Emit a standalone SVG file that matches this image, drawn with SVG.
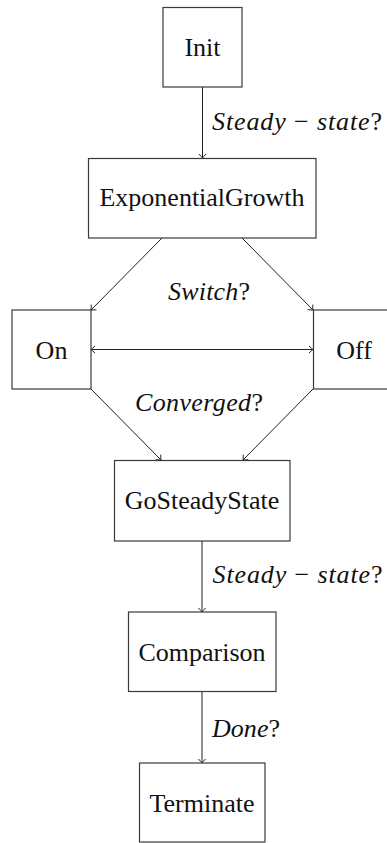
<svg xmlns="http://www.w3.org/2000/svg" width="387" height="843" viewBox="0 0 387 843">
  <style>
    .box { fill: #ffffff; stroke: #3a3a3a; stroke-width: 1.2; }
    .lbl { font-family: 'Times New Roman', 'Liberation Serif', serif; font-size: 26px; fill: #111; text-anchor: middle; }
    .cond { font-family: 'Times New Roman', 'Liberation Serif', serif; font-size: 26px; fill: #111; }
    .it { font-style: italic; }
    .edge { fill: none; stroke: #222; stroke-width: 1; marker-end: url(#tip); }
  </style>
  <defs>
    <marker id="tip" markerUnits="userSpaceOnUse" markerWidth="12" markerHeight="12" viewBox="-6 -6 12 12" refX="0" refY="0" orient="auto-start-reverse">
      <path d="M-4,-3.6 Q-1.2,-0.8 0,0 Q-1.2,0.8 -4,3.6" fill="none" stroke="#222" stroke-width="1"/>
    </marker>
  </defs>

  <rect width="387" height="843" fill="#ffffff"/>

  <!-- transitions and their guard conditions -->
  <g id="connectors">
    <line class="edge" x1="202.5" y1="87" x2="202.5" y2="158"/>
    <line class="edge" x1="162" y1="238" x2="91" y2="310"/>
    <line class="edge" x1="242" y1="238" x2="313" y2="310"/>
    <line class="edge" x1="91" y1="349.5" x2="313" y2="349.5" marker-start="url(#tip)"/>
    <line class="edge" x1="91" y1="389" x2="161" y2="460"/>
    <line class="edge" x1="313" y1="389" x2="243" y2="460"/>
    <line class="edge" x1="202" y1="541" x2="202" y2="612"/>
    <line class="edge" x1="202" y1="692" x2="202" y2="763"/>

    <text class="cond" x="212" y="130" textLength="170" lengthAdjust="spacing"><tspan class="it">Steady</tspan> − <tspan class="it">state</tspan>?</text>
    <text class="cond" x="168" y="300" textLength="82" lengthAdjust="spacing"><tspan class="it">Switch</tspan>?</text>
    <text class="cond" x="135" y="410.5" textLength="128" lengthAdjust="spacing"><tspan class="it">Converged</tspan>?</text>
    <text class="cond" x="212.5" y="583" textLength="170" lengthAdjust="spacing"><tspan class="it">Steady</tspan> − <tspan class="it">state</tspan>?</text>
    <text class="cond" x="212" y="736.5" textLength="68" lengthAdjust="spacing"><tspan class="it">Done</tspan>?</text>
  </g>

  <!-- states -->
  <g id="init">
    <rect class="box" x="163" y="7.5" width="79" height="79.5"/>
    <text class="lbl" x="202.5" y="56">Init</text>
  </g>
  <g id="exponential-growth">
    <rect class="box" x="88.5" y="158.5" width="227.5" height="79.5"/>
    <text class="lbl" x="202" y="206">ExponentialGrowth</text>
  </g>
  <g id="on">
    <rect class="box" x="12" y="310" width="79" height="79"/>
    <text class="lbl" x="51.5" y="358.5">On</text>
  </g>
  <g id="off">
    <rect class="box" x="313.5" y="310" width="80" height="79"/>
    <text class="lbl" x="354" y="358.5">Off</text>
  </g>
  <g id="go-steady-state">
    <rect class="box" x="114.5" y="460.5" width="175.5" height="80.5"/>
    <text class="lbl" x="202" y="509">GoSteadyState</text>
  </g>
  <g id="comparison">
    <rect class="box" x="128.5" y="612" width="147.5" height="79.5"/>
    <text class="lbl" x="202" y="660.5">Comparison</text>
  </g>
  <g id="terminate">
    <rect class="box" x="139.5" y="763" width="125.5" height="79"/>
    <text class="lbl" x="202" y="811.5">Terminate</text>
  </g>
</svg>
